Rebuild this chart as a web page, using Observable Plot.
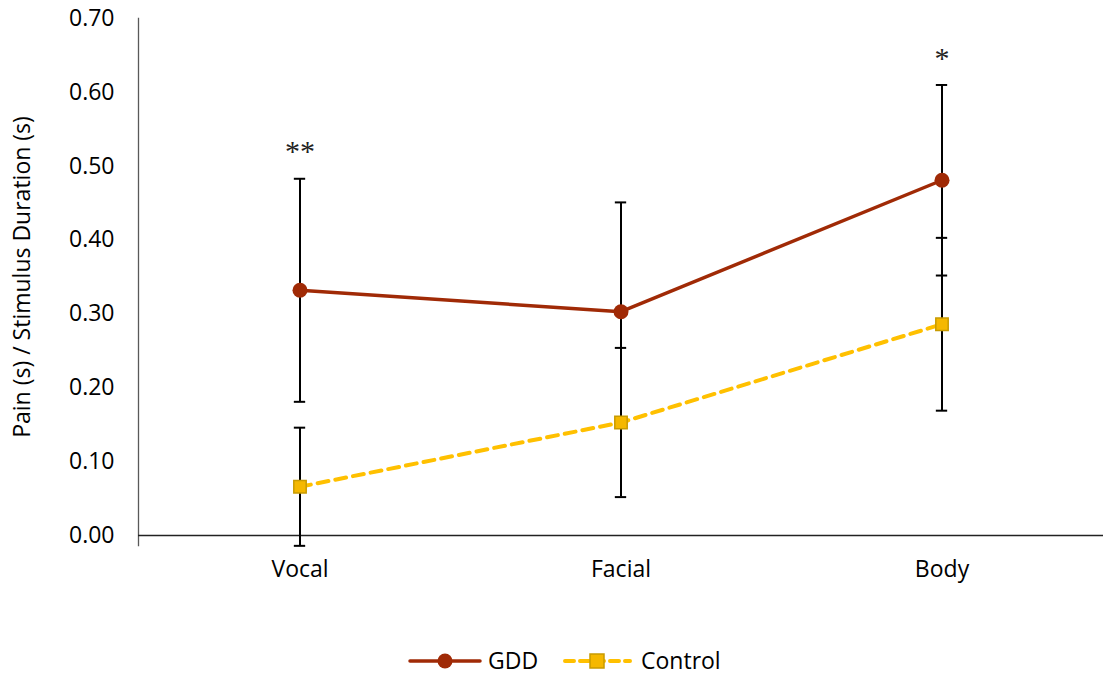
<!DOCTYPE html>
<html>
<head>
<meta charset="utf-8">
<script src="https://cdn.jsdelivr.net/npm/d3@7"></script>
<script src="https://cdn.jsdelivr.net/npm/@observablehq/plot@0.6"></script>
<style>
  body { margin: 0; background: #fff; font-family: "Open Sans", sans-serif; }
  #chart svg { display: block; overflow: visible; }
  #legend { display: block; }
</style>
</head>
<body>
<div id="chart"></div>
<div id="legend"></div>
<script>
// Stimulus categories
const categories = ["Vocal", "Facial", "Body"];
// Group means and error half-widths
const gddMean = [0.332, 0.303, 0.481];
const gddErr = [0.151, 0.148, 0.129];
const controlMean = [0.066, 0.153, 0.286];
const controlErr = [0.080, 0.101, 0.117];
// Y axis ticks
const yTicks = [0, 0.1, 0.2, 0.3, 0.4, 0.5, 0.6, 0.7];
// Significance markers above the GDD error bars
const sigCategories = ["Vocal", "Body"];
const sigLabels = ["**", "*"];
const yLabel = "Pain (s) / Stimulus Duration (s)";
const seriesNames = ["GDD", "Control"];

const gddColor = "#A02A06";
const ctrlLine = "#FFC000";
const ctrlFill = "#F5B800";
const ctrlStroke = "#C89B00";
const FS = 23;

const gdd = categories.map((c, i) => ({cat: c, mean: gddMean[i], lo: gddMean[i] - gddErr[i], hi: gddMean[i] + gddErr[i]}));
const ctrl = categories.map((c, i) => ({cat: c, mean: controlMean[i], lo: controlMean[i] - controlErr[i], hi: controlMean[i] + controlErr[i]}));
const bars = [...gdd, ...ctrl];
const sig = sigCategories.map((c, i) => ({cat: c, label: sigLabels[i], hi: gdd[categories.indexOf(c)].hi}));

const W = 1103, capHalf = 6;
const bandW = (W - 138) / categories.length;
const capInset = bandW / 2 - capHalf;

const chart = Plot.plot({
  width: W,
  height: 620,
  marginLeft: 138,
  marginRight: 0,
  marginTop: 18,
  marginBottom: 85,
  style: {fontFamily: "'Open Sans', sans-serif", fontSize: FS + "px", color: "#000", background: "#fff"},
  x: {type: "band", domain: categories, padding: 0},
  y: {domain: [0, 0.7]},
  marks: [
    Plot.axisY({ticks: yTicks, tickFormat: d => d.toFixed(2), tickSize: 0, tickPadding: 24, label: null, fontSize: FS}),
    Plot.axisX({tickSize: 0, tickPadding: 25, label: null, fontSize: FS}),
    Plot.frame({anchor: "left", stroke: "#595959", strokeWidth: 1.3, insetBottom: -10}),
    Plot.ruleY([0], {stroke: "#222", strokeWidth: 1.5}),
    Plot.text([yLabel], {frameAnchor: "left", textAnchor: "middle", dx: -116, rotate: -90, fontSize: FS, fill: "#000"}),
    // error bars
    Plot.ruleX(bars, {x: "cat", y1: "lo", y2: "hi", stroke: "#000", strokeWidth: 2}),
    Plot.tickY(bars, {x: "cat", y: "lo", stroke: "#000", strokeWidth: 2, insetLeft: capInset, insetRight: capInset}),
    Plot.tickY(bars, {x: "cat", y: "hi", stroke: "#000", strokeWidth: 2, insetLeft: capInset, insetRight: capInset}),
    // series lines
    Plot.line(ctrl, {x: "cat", y: "mean", stroke: ctrlLine, strokeWidth: 4, strokeDasharray: "11,7"}),
    Plot.line(gdd, {x: "cat", y: "mean", stroke: gddColor, strokeWidth: 3.5}),
    // markers
    Plot.dot(gdd, {x: "cat", y: "mean", r: 7.5, fill: gddColor, stroke: "none"}),
    Plot.dot(ctrl, {x: "cat", y: "mean", symbol: "square", r: 7, fill: ctrlFill, stroke: ctrlStroke, strokeWidth: 1.5}),
    // significance
    Plot.text(sig, {x: "cat", y: "hi", text: "label", dy: -27, fontSize: 30, fontFamily: "'Liberation Serif', serif", fill: "#222"})
  ]
});
document.getElementById("chart").appendChild(chart);

// Legend below the chart
const legend = d3.select("#legend").append("svg").attr("width", W).attr("height", 59);
const ly = 41;
const g1 = legend.append("g");
g1.append("line").attr("x1", 410).attr("x2", 480).attr("y1", ly).attr("y2", ly).attr("stroke", gddColor).attr("stroke-width", 3.5).attr("stroke-linecap", "round");
g1.append("circle").attr("cx", 445).attr("cy", ly).attr("r", 7.5).attr("fill", gddColor);
g1.append("text").attr("x", 488).attr("y", ly).attr("dy", "0.35em").attr("font-size", FS).attr("font-family", "'Open Sans', sans-serif").text(seriesNames[0]);
const g2 = legend.append("g");
g2.append("line").attr("x1", 565).attr("x2", 630).attr("y1", ly).attr("y2", ly).attr("stroke", ctrlLine).attr("stroke-width", 4).attr("stroke-dasharray", "9,6").attr("stroke-linecap", "round");
g2.append("rect").attr("x", 590).attr("y", ly - 7).attr("width", 14).attr("height", 14).attr("fill", ctrlFill).attr("stroke", ctrlStroke).attr("stroke-width", 1.5);
g2.append("text").attr("x", 641).attr("y", ly).attr("dy", "0.35em").attr("font-size", FS).attr("font-family", "'Open Sans', sans-serif").text(seriesNames[1]);
</script>
</body>
</html>
